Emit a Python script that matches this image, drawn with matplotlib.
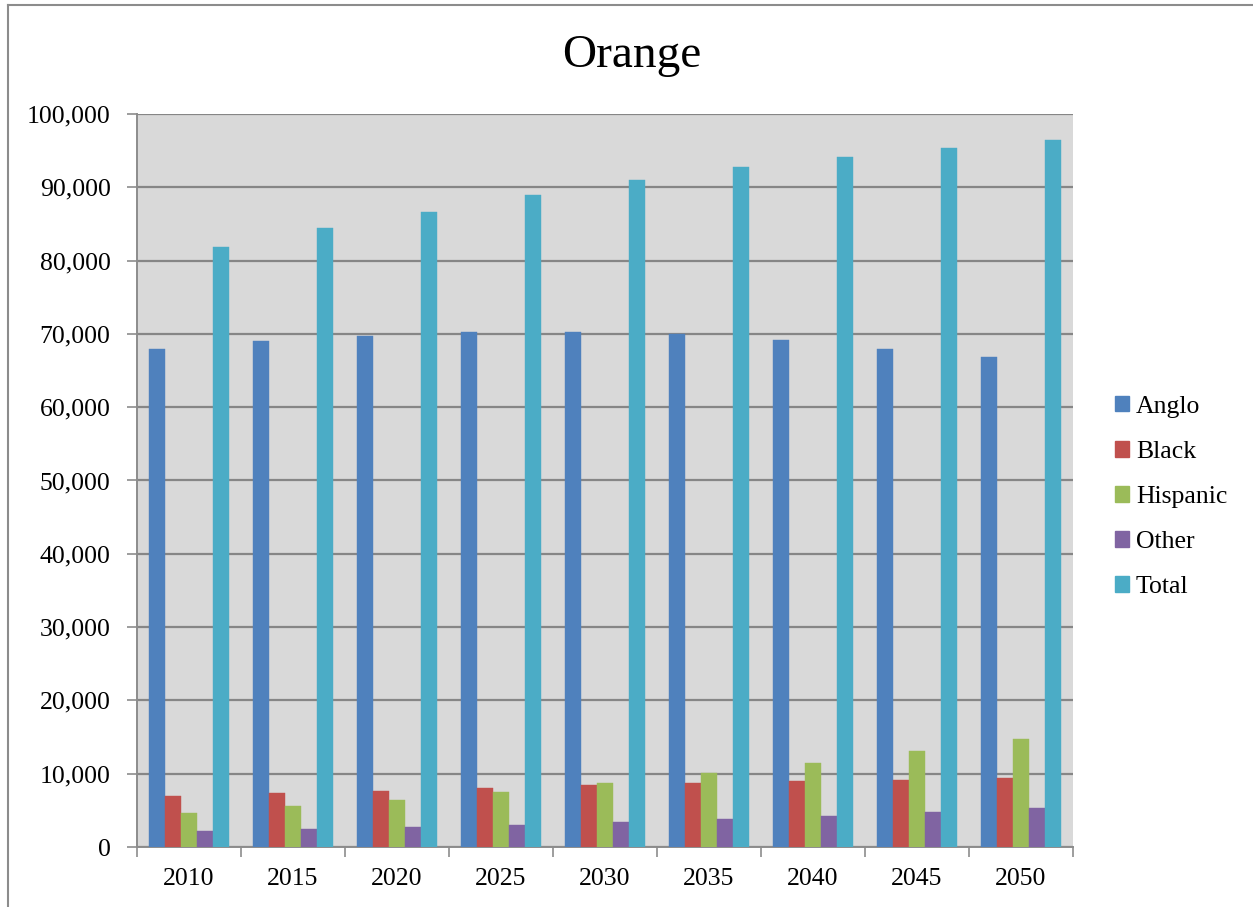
import matplotlib
matplotlib.use("Agg")
import matplotlib.pyplot as plt
from matplotlib.ticker import FuncFormatter
from matplotlib.lines import Line2D
import numpy as np

years = ["2010", "2015", "2020", "2025", "2030", "2035", "2040", "2045", "2050"]
anglo = [67900, 69000, 69700, 70200, 70250, 70000, 69100, 68000, 66800]
black = [6900, 7300, 7600, 8000, 8400, 8750, 8950, 9200, 9350]
hispanic = [4700, 5550, 6450, 7500, 8700, 10050, 11500, 13050, 14800]
other = [2200, 2450, 2750, 3000, 3400, 3800, 4250, 4750, 5300]
total = [81850, 84400, 86650, 88950, 91000, 92750, 94150, 95300, 96500]

series = [("Anglo", anglo, "#4F81BD"),
          ("Black", black, "#C0504D"),
          ("Hispanic", hispanic, "#9BBB59"),
          ("Other", other, "#8064A2"),
          ("Total", total, "#4BACC6")]

plt.rcParams["font.family"] = ["Liberation Serif", "DejaVu Serif"]

fig = plt.figure(figsize=(12.53, 9.07), dpi=100)
ax = fig.add_axes([137 / 1253, 1 - 847 / 907, 936 / 1253, 733 / 907])
ax.set_facecolor("#D9D9D9")

x = np.arange(len(years))
bw = 0.154
for i, (name, vals, col) in enumerate(series):
    ax.bar(x + (i - 2) * bw, vals, width=bw, color=col, label=name,
           edgecolor=col, linewidth=0.3, zorder=3)

ax.set_xlim(-0.5, len(years) - 0.5)
ax.set_ylim(0, 100000)
ax.set_yticks(np.arange(0, 100001, 10000))
ax.yaxis.set_major_formatter(FuncFormatter(lambda v, p: f"{int(v):,}"))
ax.grid(axis="y", color="#868686", linewidth=1.6, zorder=1)
ax.set_axisbelow(True)

# category boundaries carry the tick marks; labels sit at the centres
ax.set_xticks(np.arange(-0.5, len(years), 1.0))
ax.set_xticklabels([])
ax.set_xticks(x, minor=True)
ax.set_xticklabels(years, minor=True)
ax.tick_params(axis="x", which="major", length=7, width=1.2, color="#8C8C8C", direction="out")
ax.tick_params(axis="x", which="minor", length=0, pad=15, labelsize=18.5)
ax.tick_params(axis="y", length=7, width=1.2, color="#8C8C8C", pad=12, labelsize=18.5)

for s in ["top", "right"]:
    ax.spines[s].set_visible(False)
for s in ["left", "bottom"]:
    ax.spines[s].set_color("#8C8C8C")
    ax.spines[s].set_linewidth(1.4)

fig.text(632 / 1253, 1 - 56 / 907, "Orange", ha="center", va="center", fontsize=34)

handles = [plt.Rectangle((0, 0), 1, 1, color=c) for _, _, c in series]
fig.legend(handles, [n for n, _, _ in series], loc="center left",
           bbox_to_anchor=(1105 / 1253, 1 - 497 / 907), frameon=False,
           fontsize=18.5, handlelength=0.55, handleheight=0.55,
           handletextpad=0.25, labelspacing=0.9, borderaxespad=0)

# outer chart border (left and top edges)
fig.add_artist(Line2D([8 / 1253, 8 / 1253], [0, 1 - 5 / 907], transform=fig.transFigure,
                      color="#8C8C8C", linewidth=1.5))
fig.add_artist(Line2D([8 / 1253, 1], [1 - 5 / 907, 1 - 5 / 907], transform=fig.transFigure,
                      color="#8C8C8C", linewidth=1.5))

fig.savefig("out.png", dpi=100, facecolor="white")
